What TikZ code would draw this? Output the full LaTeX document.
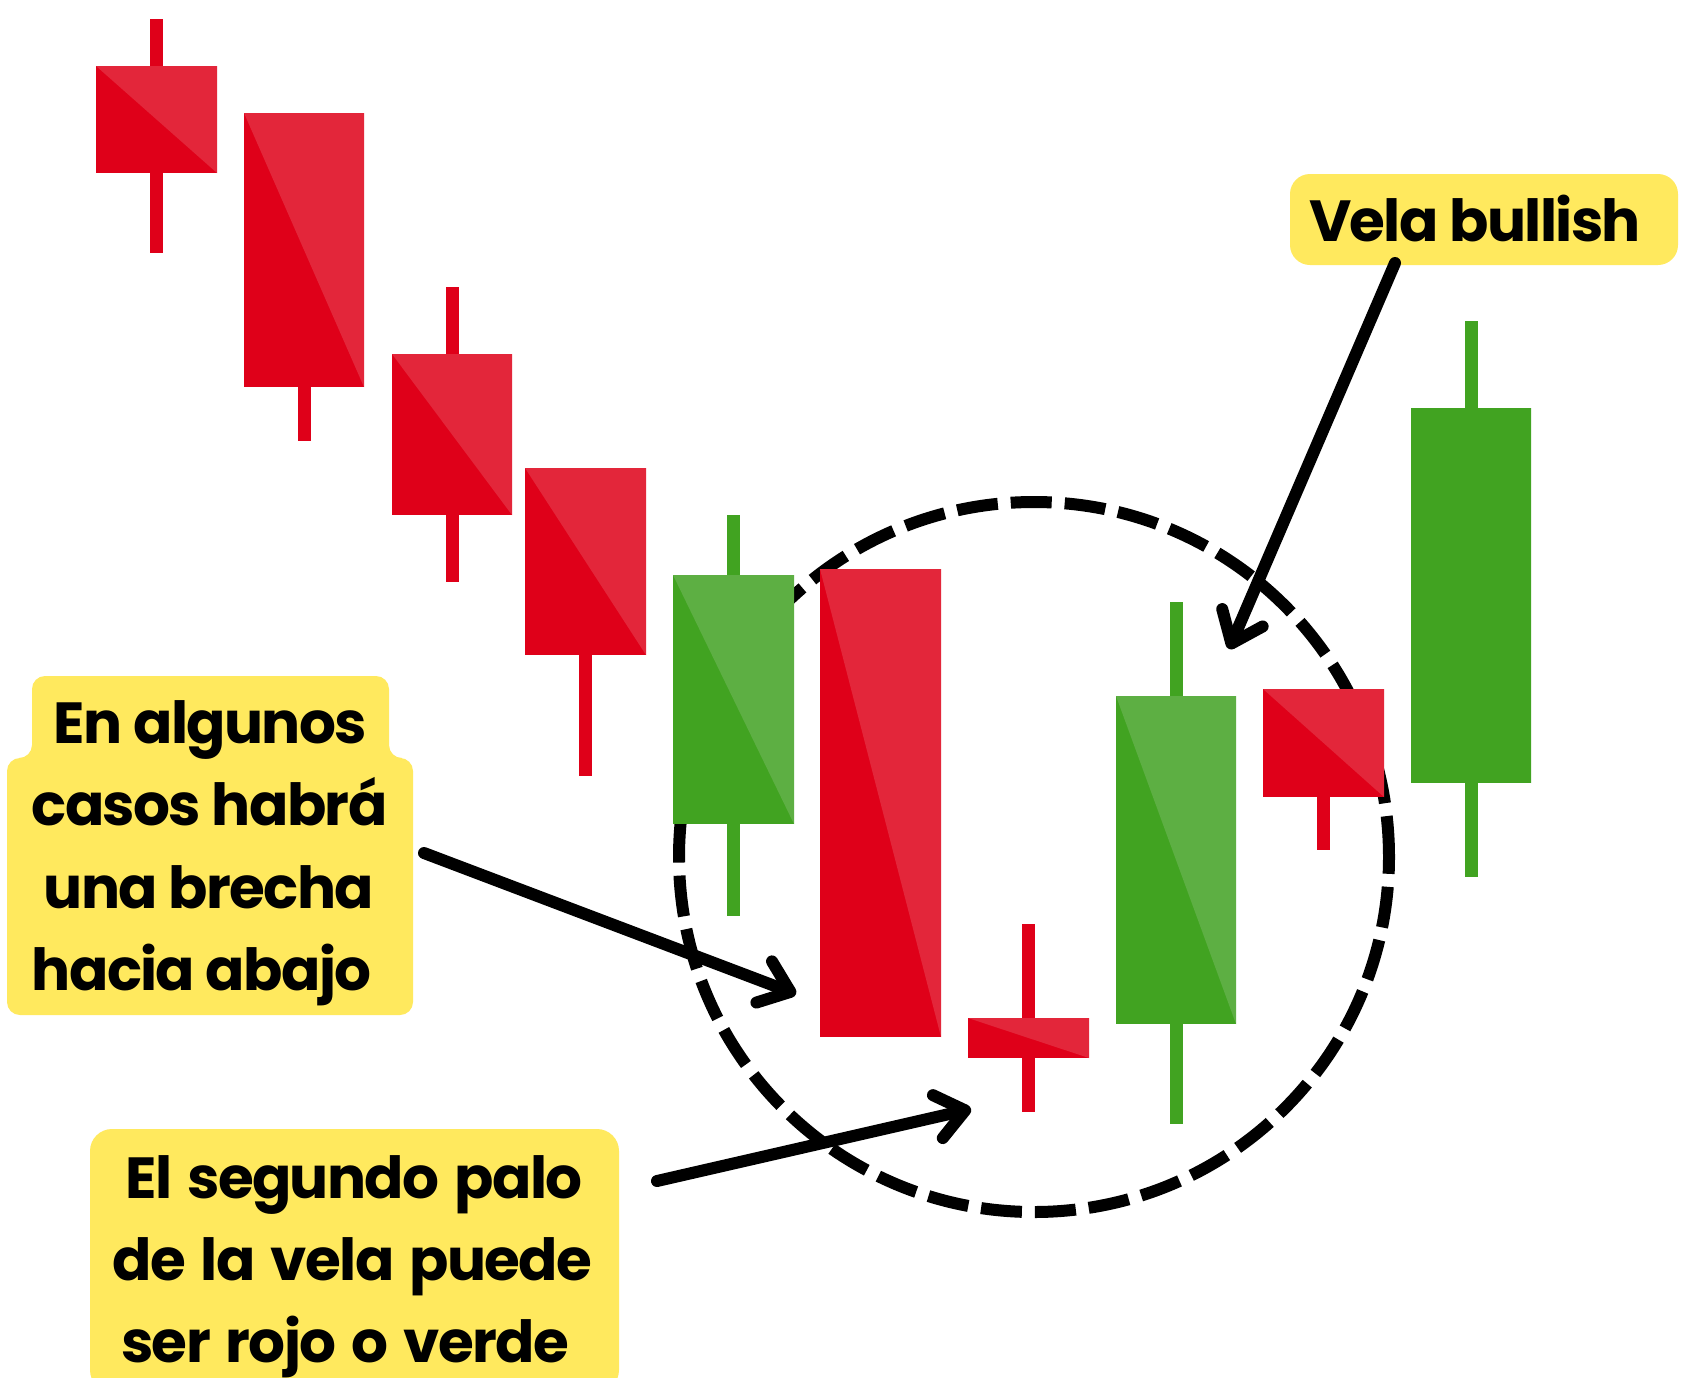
\documentclass[tikz,border=0pt]{standalone}
\usepackage{fontspec}
\setmainfont{Poppins}[LetterSpace=-2.8]
\newfontfamily\popwide{Poppins}[LetterSpace=-2.8, WordSpace=1.4]
\usetikzlibrary{arrows.meta}
\definecolor{redD}{HTML}{DF0019}
\definecolor{redL}{HTML}{E3263A}
\definecolor{grnD}{HTML}{41A321}
\definecolor{grnL}{HTML}{5DAF43}
\definecolor{hl}{HTML}{FFE95E}
% #1 x1, #2 x2, #3 body top, #4 body bottom, #5 wick top, #6 wick bottom, #7 dark, #8 light
\newcommand\mycandle[8]{%
  \fill[#7] ({(#1+#2)/2-6.5},#5) rectangle ({(#1+#2)/2+6.5},#6);
  \fill[#7] (#1,#3) rectangle (#2,#4);
  \fill[#8] (#1,#3) -- (#2,#3) -- (#2,#4) -- cycle;
}
\begin{document}
\begin{tikzpicture}[x=1pt,y=-1pt,
  lbl/.style={anchor=base, inner sep=0pt, font=\fontsize{58}{82}\selectfont\bfseries},
  lblw/.style={lbl, font=\fontsize{58}{82}\popwide\bfseries},
  callout/.style={line width=12pt, line cap=round, line join=round,
                  -{Straight Barb[length=28pt,width=44pt,round]}},
  ring/.style={line width=12pt, dash pattern=on 41pt off 13pt},
  note/.style={fill=hl, rounded corners=20pt},
]
\useasboundingbox (0,0) rectangle (1681,1377);
\fill[white] (0,0) rectangle (1681,1377);

% dashed ring
\draw[ring] (1034,857) circle[radius=355pt];

% candles
\mycandle{96}{217}{66}{173}{19}{253}{redD}{redL}
\mycandle{244}{364}{113}{387}{113}{441}{redD}{redL}
\mycandle{392}{512}{354}{515}{287}{582}{redD}{redL}
\mycandle{525}{646}{468}{655}{468}{776}{redD}{redL}
\mycandle{673}{794}{575}{824}{515}{916}{grnD}{grnL}
\mycandle{820}{941}{569}{1037}{569}{1037}{redD}{redL}
\mycandle{968}{1089}{1018}{1058}{924}{1112}{redD}{redL}
\mycandle{1116}{1236}{696}{1024}{602}{1124}{grnD}{grnL}
\mycandle{1263}{1384}{689}{797}{689}{850}{redD}{redL}
\mycandle{1411}{1531}{408}{783}{321}{877}{grnD}{grnD}

% yellow notes
\fill[note] (1290,174) rectangle (1678,265);
\fill[hl, rounded corners=13pt] (32,676) -- (389,676) -- (389,758) -- (413,758)
   -- (413,1015) -- (7,1015) -- (7,758) -- (32,758) -- cycle;
\fill[note, rounded corners=22pt] (90,1129) rectangle (619,1392);

% texts
\node[lbl] (vela) at (1475,241) {Vela bullish};
\node[lbl] (ea1) at (210.5,743) {En algunos};
\node[lbl] (ea2) at (209.5,825) {casos habrá};
\node[lbl] (ea3) at (209,908) {una brecha};
\node[lbl] (ea4) at (201.7,990) {hacia abajo};
\node[lblw] (es1) at (354,1198) {El segundo palo};
\node[lblw] (es2) at (352.4,1280) {de la vela puede};
\node[lblw] (es3) at (345,1362) {ser rojo o verde};

% arrow end points
\coordinate (a1s) at (424,853);
\coordinate (a1e) at (796,994);
\coordinate (a2s) at (657,1181);
\coordinate (a2e) at (971,1109);
\coordinate (a3s) at (1395,263);
\coordinate (a3e) at (1229,649);

\draw[callout] (a1s) -- (a1e);
\draw[callout] (a2s) -- (a2e);
\draw[callout] (a3s) -- (a3e);
\end{tikzpicture}
\end{document}
